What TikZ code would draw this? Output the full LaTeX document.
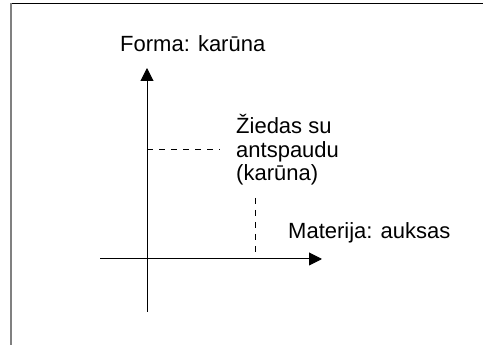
\documentclass[tikz,border=0pt]{standalone}
\usepackage{fontspec}
\setmainfont{Liberation Sans}
\usetikzlibrary{arrows.meta}

\begin{document}
\begin{tikzpicture}[x=1pt, y=-1pt,
                    axis/.style={line width=1pt, -{Triangle[length=13pt, width=13pt]}},
                    guide/.style={line width=0.8pt, dash pattern=on 6pt off 6pt},
                    lbl/.style={font=\fontsize{22}{23.5}\selectfont, inner sep=0pt}]
\useasboundingbox (0,0) rectangle (483,347);
% page frame
\draw[line width=0.8pt] (11,3) -- (483,3);
\draw[gray, line width=1.5pt] (11,3) -- (11,345);

% axes
\coordinate (ybot) at (147,312);
\coordinate (ytop) at (147,68);
\coordinate (xleft) at (100,259);
\coordinate (xright) at (322,259);
\draw[axis] (ybot) -- (ytop);
\draw[axis] (xleft) -- (xright);

\node[lbl, anchor=base west] (forma) at (120,52) {Forma: karūna};
\node[lbl, anchor=base west] (materija) at (288,239) {Materija: auksas};
% base of a multi-line node is its last line
\node[lbl, anchor=base west, align=left] (ziedas) at (236,181)
    {Žiedas su\\antspaudu\\(karūna)};

% guide lines
\coordinate (fy) at (147,149);
\coordinate (fx) at (220,149);
\coordinate (mx) at (255,198);
\coordinate (my) at (255,259);
\draw[guide] (fy) -- (fx);
\draw[guide] (mx) -- (my);
\end{tikzpicture}
\end{document}
